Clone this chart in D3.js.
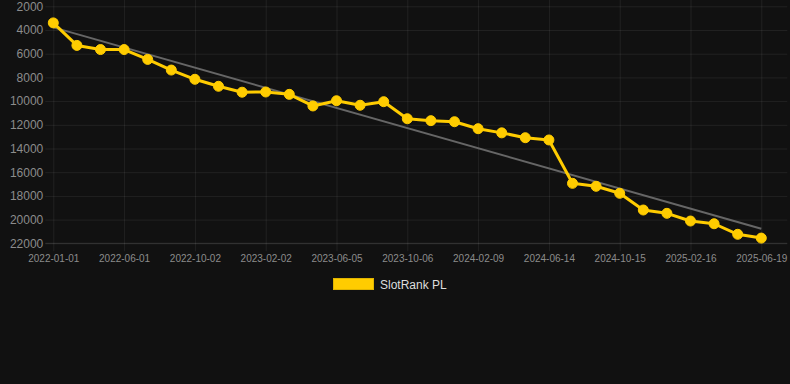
<!DOCTYPE html>
<html>
<head>
<meta charset="utf-8">
<script src="https://cdn.jsdelivr.net/npm/d3@7/dist/d3.min.js"></script>
<style>
  html, body { margin: 0; padding: 0; background: #111111; }
  svg { display: block; font-family: "Liberation Sans", Arial, Helvetica, sans-serif; }
</style>
</head>
<body>
<svg id="chart" width="790" height="384"></svg>
<script>
const categories = ["2022-01-01","2022-02-20","2022-04-11","2022-06-01","2022-07-12","2022-08-22","2022-10-02","2022-11-12","2022-12-23","2023-02-02","2023-03-15","2023-04-25","2023-06-05","2023-07-16","2023-08-26","2023-10-06","2023-11-17","2023-12-29","2024-02-09","2024-03-21","2024-05-03","2024-06-14","2024-07-25","2024-09-04","2024-10-15","2024-11-25","2025-01-06","2025-02-16","2025-03-29","2025-05-09","2025-06-19"];
const rankValues = [3400,5300,5650,5650,6480,7380,8160,8750,9250,9230,9430,10410,9970,10350,10050,11490,11650,11740,12330,12680,13090,13280,16940,17190,17780,19190,19470,20120,20350,21240,21560];
const trendValues = [3780, 20770];
const yTicks = [2000,4000,6000,8000,10000,12000,14000,16000,18000,20000,22000];
const seriesName = "SlotRank PL";

(function () {
const svg = d3.select("#chart");
const mLeft = 53.3, mRight = 761.3, mTop = 6.3, mBottom = 243.3;

const x = d3.scalePoint().domain(categories).range([mLeft, mRight]);
const y = d3.scaleLinear().domain([2000, 22000]).range([mTop, mBottom]);

const gridColor = "rgba(255,255,255,0.07)";
const labelColor = "#8c8c8c";

// horizontal grid
const yAxis = d3.axisLeft(y).tickValues(yTicks).tickSize(0).tickPadding(10).tickFormat(d3.format("d"));
const gy = svg.append("g").attr("transform", `translate(${mLeft},0)`).call(yAxis);
gy.select(".domain").remove();
gy.selectAll(".tick line").attr("stroke", gridColor).attr("x1", -8).attr("x2", mRight - mLeft + 26);
gy.selectAll(".tick text").attr("fill", labelColor).attr("font-size", 12).attr("x", -10);

// vertical grid + labels (every 3rd category)
const labeled = categories.filter((d, i) => i % 3 === 0);
const xAxis = d3.axisBottom(x).tickValues(labeled).tickSize(0).tickPadding(12);
const gx = svg.append("g").attr("transform", `translate(0,${mBottom})`).call(xAxis);
gx.select(".domain").remove();
gx.selectAll(".tick line").attr("stroke", gridColor).attr("y1", -mBottom).attr("y2", 8);
gx.selectAll(".tick text").attr("fill", labelColor).attr("font-size", 10);

// bottom axis line
svg.append("line").attr("x1", mLeft - 8).attr("x2", mRight + 26).attr("y1", y(22000)).attr("y2", y(22000))
  .attr("stroke", "rgba(255,255,255,0.12)");

// trend line
svg.append("line")
  .attr("x1", x(categories[0])).attr("y1", y(trendValues[0]))
  .attr("x2", x(categories[categories.length - 1])).attr("y2", y(trendValues[1]))
  .attr("stroke", "#666666").attr("stroke-width", 2);

// series line
const data = categories.map((c, i) => ({c, v: rankValues[i]}));
svg.append("path").datum(data)
  .attr("fill", "none").attr("stroke", "#FFCC00").attr("stroke-width", 3)
  .attr("stroke-linejoin", "round")
  .attr("d", d3.line().x(d => x(d.c)).y(d => y(d.v)));

svg.append("g").selectAll("circle").data(data).join("circle")
  .attr("cx", d => x(d.c)).attr("cy", d => y(d.v)).attr("r", 5)
  .attr("fill", "#FFCC00").attr("stroke", "#FFCC00").attr("stroke-width", 1);

// legend
svg.append("rect").attr("x", 333.5).attr("y", 278.5).attr("width", 40).attr("height", 11)
  .attr("fill", "#FFCC00").attr("stroke", "#E0B400").attr("stroke-width", 1);
svg.append("text").attr("x", 380).attr("y", 288.5).attr("fill", "#dddddd").attr("font-size", 12)
  .text(seriesName);
})();
</script>
</body>
</html>
